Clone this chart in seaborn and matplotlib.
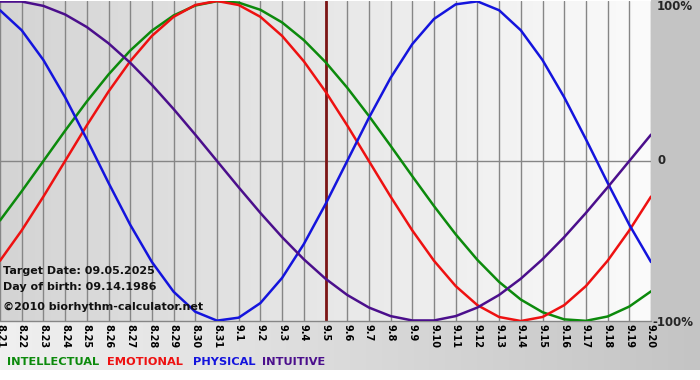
import numpy as np
import pandas as pd
import matplotlib
matplotlib.use("Agg")
import matplotlib.pyplot as plt
import seaborn as sns

# ---- data ----
dates = ["8.21", "8.22", "8.23", "8.24", "8.25", "8.26", "8.27", "8.28", "8.29", "8.30", "8.31",
         "9.1", "9.2", "9.3", "9.4", "9.5", "9.6", "9.7", "9.8", "9.9", "9.10",
         "9.11", "9.12", "9.13", "9.14", "9.15", "9.16", "9.17", "9.18", "9.19", "9.20"]

physical = [0.9423, 0.8170, 0.6311, 0.3984, 0.1362, -0.1362, -0.3984, -0.6311, -0.8170, -0.9423,
            -0.9977, -0.9791, -0.8879, -0.7308, -0.5196, -0.2698, 0.0, 0.2698, 0.5196, 0.7308,
            0.8879, 0.9791, 0.9977, 0.9423, 0.8170, 0.6311, 0.3984, 0.1362, -0.1362, -0.3984, -0.6311]

emotional = [-0.6235, -0.4339, -0.2225, 0.0, 0.2225, 0.4339, 0.6235, 0.7818, 0.9010, 0.9749,
             1.0, 0.9749, 0.9010, 0.7818, 0.6235, 0.4339, 0.2225, 0.0, -0.2225, -0.4339,
             -0.6235, -0.7818, -0.9010, -0.9749, -1.0, -0.9749, -0.9010, -0.7818, -0.6235, -0.4339, -0.2225]

intellectual = [-0.3717, -0.1893, 0.0, 0.1893, 0.3717, 0.5406, 0.6901, 0.8146, 0.9096, 0.9718,
                0.9989, 0.9898, 0.9450, 0.8660, 0.7557, 0.6182, 0.4582, 0.2817, 0.0951, -0.0951,
                -0.2817, -0.4582, -0.6182, -0.7557, -0.8660, -0.9450, -0.9898, -0.9989, -0.9718, -0.9096, -0.8146]

intuitive = [0.9966, 0.9966, 0.9694, 0.9158, 0.8372, 0.7357, 0.6142, 0.4759, 0.3247, 0.1646,
             0.0, -0.1646, -0.3247, -0.4759, -0.6142, -0.7357, -0.8372, -0.9158, -0.9694, -0.9966,
             -0.9966, -0.9694, -0.9158, -0.8372, -0.7357, -0.6142, -0.4759, -0.3247, -0.1646, 0.0, 0.1646]

cycles = ["INTELLECTUAL", "EMOTIONAL", "PHYSICAL", "INTUITIVE"]
target_index = dates.index("9.5")
y_labels = ["100%", "0", "-100%"]
info_lines = ["Target Date: 09.05.2025", "Day of birth: 09.14.1986", "\u00a92010 biorhythm-calculator.net"]

colors = {"INTELLECTUAL": "#0c8a0c", "EMOTIONAL": "#ee1111",
          "PHYSICAL": "#1414dd", "INTUITIVE": "#4b0f8c"}

frames = []
for name, vals in zip(cycles, [intellectual, emotional, physical, intuitive]):
    frames.append(pd.DataFrame({"day": np.arange(len(dates)), "value": vals, "cycle": name}))
df = pd.concat(frames, ignore_index=True)

sns.set_theme(style="white")
plt.rcParams["font.family"] = ["DejaVu Sans"]

W, H = 700, 380
fig = plt.figure(figsize=(7, 3.8), dpi=100)

# figure background (decoration)
img = np.ones((H, W, 3))
xs = np.arange(W) / (W - 1)
band = (240 - (240 - 196) * xs) / 255.0
img[:321, 651:, :] = 196 / 255.0
img[321:370, :, :] = band[None, :, None]
bg = fig.add_axes([0, 0, 1, 1], zorder=0)
bg.imshow(img, aspect="auto", extent=[0, W, H, 0], interpolation="bilinear")
bg.axis("off")

ax = fig.add_axes([0, 59 / H, 651 / W, 320 / H], zorder=1)
grad = np.linspace(212, 251, 256)[None, :] / 255.0
ax.imshow(np.dstack([grad, grad, grad]), aspect="auto", extent=[0, len(dates) - 1, -1, 1],
          zorder=0, interpolation="bilinear")

for i in range(len(dates)):
    ax.axvline(i, color="#868686", lw=1.0, zorder=1)
ax.axhline(0, color="#868686", lw=1.0, zorder=1)
ax.axvline(target_index, color="#7c1616", lw=2.0, zorder=2)

sns.lineplot(data=df, x="day", y="value", hue="cycle", palette=colors, hue_order=cycles,
             linewidth=1.8, legend=False, ax=ax, zorder=3)

ax.set_xlim(0, len(dates) - 1)
ax.set_ylim(-1, 1)
ax.set_xticks(np.arange(len(dates)))
ax.set_xticklabels(dates, rotation=-90, fontsize=7, color="black", fontweight="bold")
ax.tick_params(axis="x", length=0, pad=2)
ax.set_yticks([])
ax.set_xlabel("")
ax.set_ylabel("")
for s in ["top", "left", "right"]:
    ax.spines[s].set_visible(False)
ax.spines["bottom"].set_color("#868686")
ax.spines["bottom"].set_linewidth(1.0)

# right-hand labels
fig.text(657 / W, 1 - 7 / H, y_labels[0], fontsize=8.5, fontweight="bold", ha="left", va="center")
fig.text(657 / W, 1 - 161 / H, y_labels[1], fontsize=8.5, fontweight="bold", ha="left", va="center")
fig.text(652 / W, 1 - 322 / H, y_labels[2], fontsize=8.5, fontweight="bold", ha="left", va="center")

# info text
for txt, yy in zip(info_lines, [271, 287, 307]):
    fig.text(3 / W, 1 - yy / H, txt, fontsize=8, fontweight="bold", ha="left", va="center",
             color="#111111", zorder=5)

# legend words
for name, xx in zip(cycles, [7, 107, 193, 262]):
    fig.text(xx / W, 1 - 362 / H, name, fontsize=8.2, fontweight="bold", ha="left", va="center",
             color=colors[name])

fig.savefig("out.png", dpi=100)
